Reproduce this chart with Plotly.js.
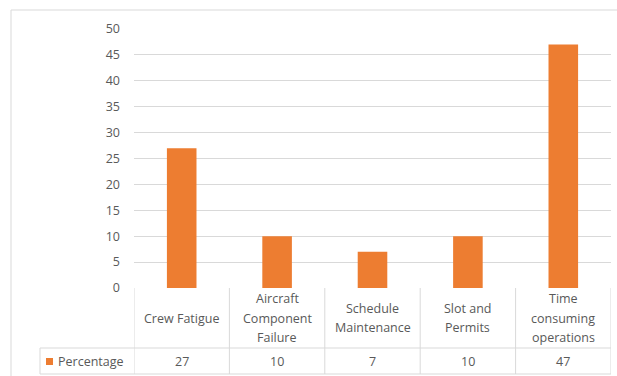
<!DOCTYPE html>
<html>
<head>
<meta charset="utf-8">
<script src="https://cdn.plot.ly/plotly-3.0.1.min.js"></script>
<style>
html,body{margin:0;padding:0;background:#fff;}
#chart{width:617px;height:376px;}
</style>
</head>
<body>
<div id="chart"></div>
<script>
var categories = ["Crew Fatigue", "Aircraft Component Failure", "Schedule Maintenance", "Slot and Permits", "Time consuming operations"];
var tableLabels = ["Crew Fatigue", "Aircraft<br>Component<br>Failure", "Schedule<br>Maintenance", "Slot and<br>Permits", "Time<br>consuming<br>operations"];
var seriesName = "Percentage";
var values = [27, 10, 7, 10, 47];
var yTicks = [0, 5, 10, 15, 20, 25, 30, 35, 40, 45, 50];

var W = 617, H = 376;
var mL = 134, mR = 6, mT = 29, mB = 88;
var plotH = H - mT - mB, plotW = W - mL - mR;
function py(p){ return (H - mB - p) / plotH; }
function px(p){ return (p - mL) / plotW; }

var txtColor = '#595959';
var lineColor = '#d9d9d9';
var font = 'Open Sans, Liberation Sans, sans-serif';
var fs = 12.5;

var shapes = [];
var annotations = [];
var n = categories.length;

// outer chart border
shapes.push({type:'rect', xref:'paper', yref:'paper', x0:px(11), x1:px(640), y0:py(10), y1:py(400), line:{color:'#d9d9d9', width:1}});

// table vertical lines
for (var i = 0; i <= n; i++) {
  shapes.push({type:'line', xref:'x', yref:'paper', x0:i-0.5, x1:i-0.5, y0:0, y1:py(374), line:{color:lineColor, width:1}});
}
// horizontal lines
shapes.push({type:'line', xref:'paper', yref:'paper', x0:px(40), x1:1, y0:py(348), y1:py(348), line:{color:lineColor, width:1}});
shapes.push({type:'line', xref:'paper', yref:'paper', x0:px(40), x1:1, y0:py(374), y1:py(374), line:{color:lineColor, width:1}});
shapes.push({type:'line', xref:'paper', yref:'paper', x0:px(40), x1:px(40), y0:py(348), y1:py(374), line:{color:lineColor, width:1}});
// legend key
shapes.push({type:'rect', xref:'paper', yref:'paper', x0:px(46), x1:px(53), y0:py(358), y1:py(365), fillcolor:'#ED7D31', line:{width:0}});

annotations.push({xref:'paper', yref:'paper', x:px(56), y:py(361), text:seriesName, showarrow:false, xanchor:'left', yanchor:'middle', font:{family:font, size:fs, color:txtColor}});

var lineGap = 19.5;
for (var i = 0; i < n; i++) {
  var parts = tableLabels[i].split('<br>');
  var mid = 318;
  for (var k = 0; k < parts.length; k++) {
    var yy = mid + (k - (parts.length - 1) / 2) * lineGap;
    annotations.push({xref:'x', yref:'paper', x:i, y:py(yy), text:parts[k], showarrow:false, xanchor:'center', yanchor:'middle', font:{family:font, size:fs, color:txtColor}});
  }
  annotations.push({xref:'x', yref:'paper', x:i, y:py(361), text:String(values[i]), showarrow:false, xanchor:'center', yanchor:'middle', font:{family:font, size:fs, color:txtColor}});
}

var data = [{
  type:'bar',
  x: categories,
  y: values,
  name: seriesName,
  marker:{color:'#ED7D31'},
  hoverinfo:'x+y'
}];

var layout = {
  width: W, height: H,
  margin:{l:mL, r:mR, t:mT, b:mB, pad:0},
  paper_bgcolor:'#fff', plot_bgcolor:'#fff',
  showlegend:false,
  bargap:0.69,
  xaxis:{type:'category', showticklabels:false, ticks:'', showgrid:false, zeroline:false, showline:false, range:[-0.5, n-0.5], fixedrange:true},
  yaxis:{range:[0,50], tickvals:yTicks, ticktext:yTicks.map(String), showgrid:true, gridcolor:lineColor, gridwidth:1, zeroline:false, showline:false, ticks:'', ticklabelstandoff:13, tickfont:{family:font, size:fs, color:txtColor}, fixedrange:true},
  shapes: shapes,
  annotations: annotations,
  font:{family:font, color:txtColor}
};

Plotly.newPlot('chart', data, layout, {displayModeBar:false, staticPlot:true});
</script>
</body>
</html>
